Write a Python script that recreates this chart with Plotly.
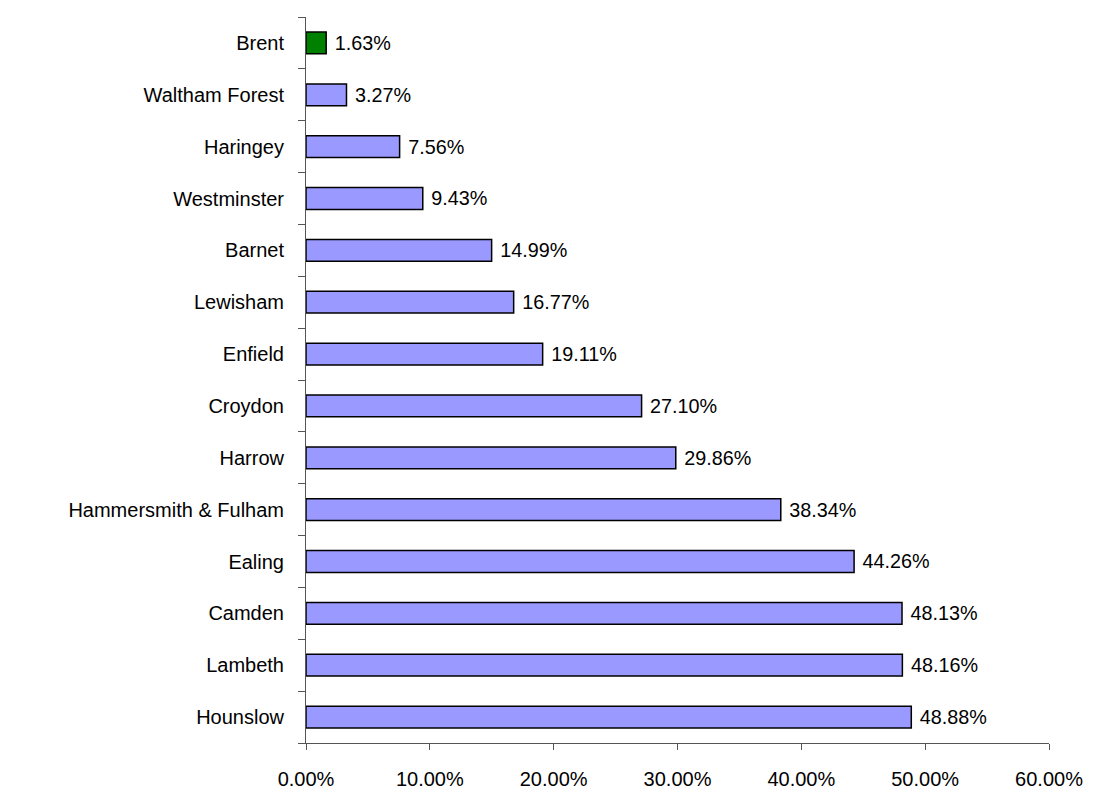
import plotly.graph_objects as go

boroughs = ["Hounslow", "Lambeth", "Camden", "Ealing", "Hammersmith & Fulham",
            "Harrow", "Croydon", "Enfield", "Lewisham", "Barnet",
            "Westminster", "Haringey", "Waltham Forest", "Brent"]
shares = [48.88, 48.16, 48.13, 44.26, 38.34, 29.86, 27.10, 19.11, 16.77, 14.99,
          9.43, 7.56, 3.27, 1.63]
x_ticks = [0, 10, 20, 30, 40, 50, 60]

# Brent highlighted in green, the rest in the usual lilac
bar_colors = ["#008000" if b == "Brent" else "#9999FF" for b in boroughs]

fig = go.Figure(go.Bar(
    x=[v / 100 for v in shares],
    y=boroughs,
    orientation="h",
    width=0.42,
    marker=dict(color=bar_colors, line=dict(color="black", width=1.5)),
    text=[" %.2f%%" % v for v in shares],
    textposition="outside",
    textfont=dict(family="Liberation Sans, Arial", size=20, color="black"),
    cliponaxis=False,
))

# page body has an 8px margin, so the figure is a bit smaller than the window
fig.update_layout(
    width=1086, height=791,
    margin=dict(l=298, r=45, t=9, b=51),
    plot_bgcolor="white", paper_bgcolor="white",
    font=dict(family="Liberation Sans, Arial", size=20, color="black"),
    showlegend=False,
)
fig.update_xaxes(
    range=[0, 0.6],
    tickvals=[t / 100 for t in x_ticks],
    ticktext=["%.2f%%" % t for t in x_ticks],
    showgrid=False, zeroline=False,
    showline=True, linecolor="#555555", linewidth=1,
    ticks="outside", ticklen=6, tickcolor="#555555",
    ticklabelstandoff=12,
)
fig.update_yaxes(
    showgrid=False, zeroline=False,
    showline=True, linecolor="#555555", linewidth=1,
    ticks="outside", ticklen=7, tickcolor="#555555",
    tickson="boundaries",
    ticklabelstandoff=17,
)

fig.write_html("out.html")
